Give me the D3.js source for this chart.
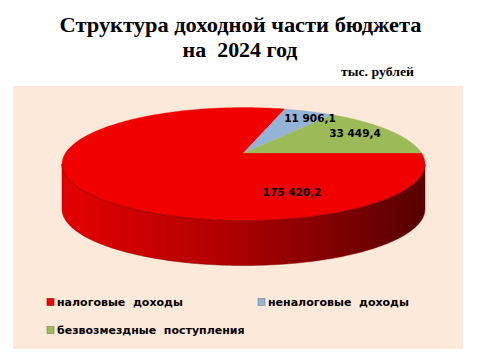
<!DOCTYPE html>
<html><head><meta charset="utf-8">
<script src="https://cdn.jsdelivr.net/npm/d3@7"></script>
<style>html,body{margin:0;padding:0;background:#fff;}svg{display:block;}</style>
</head><body>
<svg id="chart" width="480" height="360"></svg>
<script>
const categories = ["налоговые доходы", "неналоговые доходы", "безвозмездные поступления"];
const values = [175420.2, 11906.1, 33449.4];
const valueLabels = ["175 420,2", "11 906,1", "33 449,4"];
const colors = ["#f00000", "#95b3d7", "#9bbb59"];
const titleLines = ["Структура доходной части бюджета", "на  2024 год"];
const unitLabel = "тыс. рублей";

const svg = d3.select("#chart");
const defs = svg.append("defs");

// plot area
svg.append("rect").attr("x", 13).attr("y", 86).attr("width", 450).attr("height", 263).attr("fill", "#fde9d9");

// title
const serif = "'Liberation Serif','Times New Roman',serif";
svg.append("text").attr("x", 240.5).attr("y", 31.7).attr("text-anchor", "middle")
  .attr("font-family", serif).attr("font-weight", "bold")
  .attr("font-size", 21).attr("textLength", 362).attr("lengthAdjust", "spacingAndGlyphs").text(titleLines[0]);
svg.append("text").attr("x", 240).attr("y", 56.7).attr("text-anchor", "middle")
  .attr("font-family", serif).attr("font-weight", "bold")
  .attr("font-size", 20).style("white-space", "pre")
  .attr("textLength", 115).attr("lengthAdjust", "spacingAndGlyphs").text(titleLines[1]);
svg.append("text").attr("x", 377.5).attr("y", 75.7).attr("text-anchor", "middle")
  .attr("font-family", serif).attr("font-weight", "bold")
  .attr("font-size", 13).attr("textLength", 73).attr("lengthAdjust", "spacingAndGlyphs").text(unitLabel);

// perspective pie geometry
const cx = 243.5, apexY = 153;
const c = 0.195;
const Kx = 178.0, Ky = 54.35;
const depth = 45;
function proj(a) {
  const X = Math.sin(a), Z = Math.cos(a);
  const w = 1 + c * Z;
  return [cx + Kx * X / w, apexY - Ky * Z / w];
}
const ellCy = apexY + Ky * c / (1 - c * c);
const ellRx = Kx / Math.sqrt(1 - c * c);
const ellRy = Ky / (1 - c * c);

// side (front half)
const grad = defs.append("linearGradient").attr("id", "sideGrad")
  .attr("gradientUnits", "userSpaceOnUse").attr("x1", cx - ellRx).attr("x2", cx + ellRx).attr("y1", 0).attr("y2", 0);
grad.append("stop").attr("offset", "0%").attr("stop-color", "#e40000");
grad.append("stop").attr("offset", "45%").attr("stop-color", "#b00000");
grad.append("stop").attr("offset", "100%").attr("stop-color", "#560000");

const sidePts = [];
const N = 120;
for (let i = 0; i <= N; i++) {
  const t = Math.PI * i / N;
  sidePts.push([cx + ellRx * Math.cos(t), ellCy + ellRy * Math.sin(t)]);
}
const sideBottom = sidePts.slice().reverse().map(p => [p[0], p[1] + depth]);
svg.append("path")
  .attr("d", "M" + sidePts.map(p => p.join(",")).join("L") + "L" + sideBottom.map(p => p.join(",")).join("L") + "Z")
  .attr("fill", "url(#sideGrad)").attr("stroke", "#7a0000").attr("stroke-width", 0.5);

// top slices
const pie = d3.pie().sort(null).startAngle(Math.PI / 2).endAngle(Math.PI / 2 + 2 * Math.PI);
const arcs = pie(values);
svg.selectAll("path.slice").data(arcs).enter().append("path").attr("class", "slice")
  .attr("d", d => {
    const n = Math.max(4, Math.ceil((d.endAngle - d.startAngle) / 0.02));
    const pts = [[cx, apexY]];
    for (let i = 0; i <= n; i++) pts.push(proj(d.startAngle + (d.endAngle - d.startAngle) * i / n));
    return "M" + pts.map(p => p.join(",")).join("L") + "Z";
  })
  .attr("fill", (d, i) => colors[i]).attr("stroke", (d, i) => colors[i]).attr("stroke-width", 0.3);

// edge line between top and side
svg.append("path").attr("d", "M" + sidePts.map(p => p.join(",")).join("L"))
  .attr("fill", "none").attr("stroke", "#8a0000").attr("stroke-width", 0.6);

// data labels
const labelPos = [[292, 192], [310, 118], [355, 133]];
svg.selectAll("text.lbl").data(valueLabels).enter().append("text").attr("class", "lbl")
  .attr("x", (d, i) => labelPos[i][0]).attr("y", (d, i) => labelPos[i][1])
  .attr("text-anchor", "middle").attr("dominant-baseline", "central")
  .attr("font-family", "'DejaVu Sans',Verdana,sans-serif").attr("font-weight", "bold")
  .attr("font-size", 10.5).attr("fill", "#000").text(d => d);

// legend
const legendPos = [[47, 302], [258, 302], [47, 330]];
const lg = svg.selectAll("g.leg").data(categories).enter().append("g").attr("class", "leg")
  .attr("transform", (d, i) => `translate(${legendPos[i][0]},${legendPos[i][1]})`);
lg.append("rect").attr("x", 0).attr("y", -3.5).attr("width", 7).attr("height", 7)
  .attr("fill", (d, i) => colors[i]).attr("stroke", (d, i) => d3.color(colors[i]).darker(1)).attr("stroke-width", 0.6);
lg.append("text").attr("x", 10).attr("y", 0).attr("dominant-baseline", "central")
  .attr("font-family", "'DejaVu Sans',Verdana,sans-serif").attr("font-weight", "bold")
  .attr("font-size", 11).style("white-space", "pre").text(d => d.replace(" ", "  "));
</script>
</body></html>
